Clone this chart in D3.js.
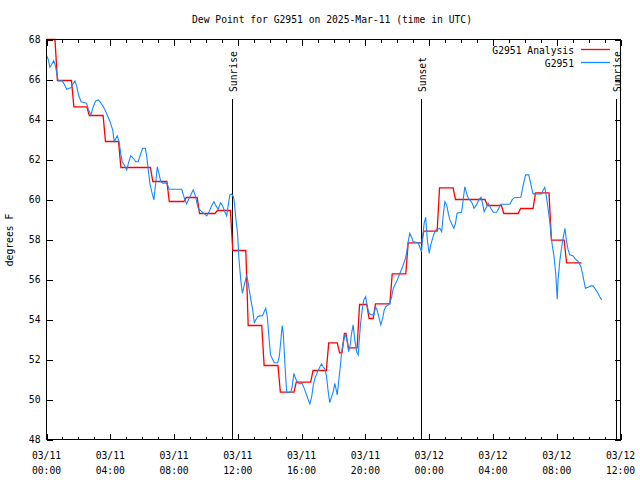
<!DOCTYPE html>
<html><head><meta charset="utf-8">
<script src="https://cdn.jsdelivr.net/npm/d3@7"></script>
<style>
body{margin:0;background:#fff}
svg text{font-family:"DejaVu Sans Mono",monospace;font-size:9.7px;fill:#000}
</style>
</head><body><svg id="c" width="640" height="480"></svg>
<script>
const title = "Dew Point for G2951 on 2025-Mar-11 (time in UTC)";
const yLabel = "degrees F";
const seriesNames = ["G2951 Analysis", "G2951"];
const seriesColors = ["#ff0000", "#1589ff"];
const xTickMinutes = [0, 240, 480, 720, 960, 1200, 1440, 1680, 1920, 2160];
const xTickDates = ["03/11","03/11","03/11","03/11","03/11","03/11","03/12","03/12","03/12","03/12"];
const xTickTimes = ["00:00","04:00","08:00","12:00","16:00","20:00","00:00","04:00","08:00","12:00"];
const yTicks = [48, 50, 52, 54, 56, 58, 60, 62, 64, 66, 68];
const sunLabels = ["Sunrise", "Sunset", "Sunrise"];
const sunMinutes = [699, 1411, 2142];

// Analysis (step) series: minute of change, value after change
const redTimes = [0,32,94,152,213,271,391,453,517,567,634,692,750,810,871,931,994,1053,1094,1112,1127,1169,1205,1229,1292,1352,1411,1470,1530,1650,1712,1775,1831,1891,1948];
const redValues = [68.0,65.95,64.63,64.2,62.9,61.6,60.9,59.9,60.1,59.3,59.45,57.45,53.7,51.7,50.37,50.87,51.45,52.83,52.33,53.3,52.58,54.75,54.05,54.78,56.28,57.83,58.42,60.58,60.0,59.7,59.3,59.55,60.33,57.97,56.83];
const redEnd = 2013;

// Observed series: minutes since 03/11 00:00 UTC, degrees F
const blueTimes = [1,7,13,20,27,32,36,41,44,59,67,76,85,92,101,107,114,120,130,145,151,157,167,176,185,195,201,214,226,239,249,255,260,266,273,280,285,293,302,308,317,327,336,345,355,362,372,377,383,389,396,404,411,417,423,430,439,446,454,462,509,515,521,527,537,546,552,559,565,571,577,592,603,612,621,630,638,646,655,663,671,678,684,690,697,703,706,713,719,724,731,737,743,749,753,757,763,769,776,782,787,795,803,813,819,825,831,837,843,849,857,870,876,882,887,891,895,900,904,910,920,925,931,937,945,954,962,972,983,991,998,1004,1010,1020,1029,1035,1041,1048,1054,1060,1066,1073,1079,1085,1089,1094,1100,1107,1110,1114,1119,1123,1127,1132,1137,1142,1148,1154,1160,1167,1173,1177,1182,1188,1194,1201,1207,1214,1223,1232,1238,1244,1252,1258,1265,1271,1277,1286,1292,1299,1305,1311,1320,1330,1340,1349,1355,1361,1367,1374,1380,1399,1405,1411,1416,1421,1427,1430,1434,1440,1446,1453,1459,1465,1472,1480,1487,1493,1499,1506,1512,1518,1527,1533,1539,1545,1562,1568,1574,1581,1587,1593,1602,1609,1618,1627,1635,1641,1647,1656,1662,1672,1681,1694,1702,1710,1744,1752,1760,1785,1794,1803,1815,1823,1831,1863,1869,1875,1879,1884,1888,1894,1898,1903,1910,1916,1922,1925,1932,1938,1944,1951,1957,1963,1969,1982,1988,2001,2010,2017,2023,2028,2038,2048,2057,2063,2074,2082,2089];
const blueValues = [67.19,66.98,66.61,66.76,66.94,66.76,66.51,66.14,65.93,65.93,65.76,65.51,65.56,65.59,65.81,65.93,65.64,65.26,64.89,64.84,64.81,64.53,64.23,64.64,64.93,64.98,64.89,64.64,64.31,63.89,63.48,62.89,63.03,63.18,62.89,62.23,61.89,61.73,61.48,61.81,62.19,62.06,61.89,61.89,62.31,62.56,62.56,62.18,61.48,60.81,60.39,59.98,60.81,61.64,61.31,60.89,60.81,60.84,60.78,60.51,60.51,60.23,59.98,59.78,60.06,60.31,60.48,60.23,59.89,59.56,59.48,59.31,59.18,59.39,59.68,59.89,59.68,59.51,59.84,59.68,59.39,59.18,59.73,60.23,60.28,60.14,59.98,58.98,58.31,57.06,55.98,55.31,55.64,55.98,56.23,55.98,55.48,54.98,54.48,53.81,53.98,54.14,54.18,54.19,54.39,54.56,54.14,53.14,52.23,52.06,51.84,51.84,52.14,52.98,53.69,53.31,52.31,51.14,50.34,50.34,50.39,50.68,51.31,51.06,50.84,50.78,50.81,50.48,50.06,49.78,50.14,50.73,51.06,51.39,51.64,51.78,51.64,51.51,51.14,50.39,49.84,50.14,50.39,50.81,50.56,50.23,50.98,51.81,52.31,52.64,52.98,53.23,53.14,52.89,52.39,52.64,53.31,53.73,52.98,52.39,52.23,52.98,53.81,54.48,54.98,55.14,54.64,54.31,54.23,54.23,54.64,54.48,54.06,53.73,54.06,54.48,54.64,54.73,54.81,55.14,55.56,55.73,55.98,56.31,56.64,56.98,57.31,57.89,58.31,58.11,57.89,57.84,57.61,57.39,58.14,58.81,59.11,58.48,57.89,57.31,57.73,58.06,58.31,58.48,58.51,58.56,58.39,59.23,59.89,59.73,59.31,58.98,58.73,58.56,58.81,59.31,59.36,59.98,60.64,60.31,60.06,59.98,59.81,59.56,59.73,59.98,60.11,59.81,59.39,59.64,59.81,59.56,59.36,59.36,59.56,59.76,59.76,59.98,60.09,60.11,60.73,61.23,61.23,60.73,60.28,60.28,60.48,60.61,60.31,59.89,59.48,58.89,58.31,57.73,57.14,56.31,55.01,55.98,56.98,57.56,58.06,58.56,57.89,57.48,57.23,57.18,57.06,56.89,56.68,56.31,55.89,55.56,55.61,55.68,55.68,55.56,55.34,55.14,54.98];

const svg = d3.select("#c");
svg.append("rect").attr("width", 640).attr("height", 480).attr("fill", "#fff");

const L = 46.5, R = 620.5, T = 39.5, B = 439.5;
const x = d3.scaleLinear().domain([0, 2160]).range([L, R]);
const y = d3.scaleLinear().domain([48, 68]).range([B, T]);

const hourly = d3.range(0, 2161, 60);

function clean(g){ g.select(".domain").remove(); g.selectAll("line").attr("stroke","#000").attr("shape-rendering","crispEdges"); g.selectAll("text").remove(); }

svg.append("g").attr("transform",`translate(0,${B})`).call(d3.axisBottom(x).tickValues(hourly).tickSize(-3)).call(clean);
svg.append("g").attr("transform",`translate(0,${B})`).call(d3.axisBottom(x).tickValues(xTickMinutes).tickSize(-6)).call(clean);
svg.append("g").attr("transform",`translate(0,${T})`).call(d3.axisTop(x).tickValues(hourly).tickSize(-3)).call(clean);
svg.append("g").attr("transform",`translate(0,${T})`).call(d3.axisTop(x).tickValues(xTickMinutes).tickSize(-6)).call(clean);
svg.append("g").attr("transform",`translate(${L},0)`).call(d3.axisLeft(y).tickValues(yTicks).tickSize(-6)).call(clean);
svg.append("g").attr("transform",`translate(${R},0)`).call(d3.axisRight(y).tickValues(yTicks).tickSize(-6)).call(clean);

// y tick labels
svg.append("g").selectAll("text").data(yTicks).join("text")
  .attr("x", 40.5).attr("y", d => y(d)).attr("dy", "0.36em").attr("text-anchor", "end").text(d => d);

// x tick labels (two lines)
const xl = svg.append("g").selectAll("g").data(xTickMinutes).join("g")
  .attr("transform", d => `translate(${x(d)},0)`);
xl.append("text").attr("y", 459).attr("text-anchor","middle").text((d,i)=>xTickDates[i]);
xl.append("text").attr("y", 474).attr("text-anchor","middle").text((d,i)=>xTickTimes[i]);

// title and y label
svg.append("text").attr("x", 332).attr("y", 23).attr("text-anchor","middle").text(title);
svg.append("text").attr("transform","translate(13,240) rotate(-90)").attr("text-anchor","middle").text(yLabel);

// sun events
sunMinutes.forEach((m,i)=>{
  const sx = Math.round(x(m)) + 0.5;
  svg.append("line").attr("x1",sx).attr("x2",sx).attr("y1",99).attr("y2",B)
    .attr("stroke","#000").attr("stroke-width",1).attr("shape-rendering","crispEdges");
  svg.append("text").attr("transform",`translate(${sx+4},92) rotate(-90)`).text(sunLabels[i]);
});

// Analysis step line
const ramp = 9;
const redPts = [[redTimes[0], redValues[0]]];
for (let i = 1; i < redTimes.length; i++) {
  redPts.push([redTimes[i], redValues[i-1]]);
  redPts.push([redTimes[i] + ramp, redValues[i]]);
}
redPts.push([redEnd, redValues[redValues.length-1]]);
const line = d3.line().x(d => x(d[0])).y(d => y(d[1]));
svg.append("path").attr("d", line(redPts)).attr("fill","none")
  .attr("stroke", seriesColors[0]).attr("stroke-width", 1.3);

const bluePts = blueTimes.map((t,i)=>[t, blueValues[i]]);
svg.append("path").attr("d", line(bluePts)).attr("fill","none")
  .attr("stroke", seriesColors[1]).attr("stroke-width", 1.1);

// border
svg.append("rect").attr("x",L).attr("y",T).attr("width",R-L).attr("height",B-T)
  .attr("fill","none").attr("stroke","#000").attr("shape-rendering","crispEdges");

// legend
const legY = [49.5, 62.5];
seriesNames.forEach((n,i)=>{
  svg.append("text").attr("x",574).attr("y",legY[i]+4).attr("text-anchor","end").text(n);
  svg.append("line").attr("x1",581).attr("x2",610).attr("y1",legY[i]).attr("y2",legY[i])
    .attr("stroke",seriesColors[i]).attr("stroke-width",1.3);
});
</script></body></html>
